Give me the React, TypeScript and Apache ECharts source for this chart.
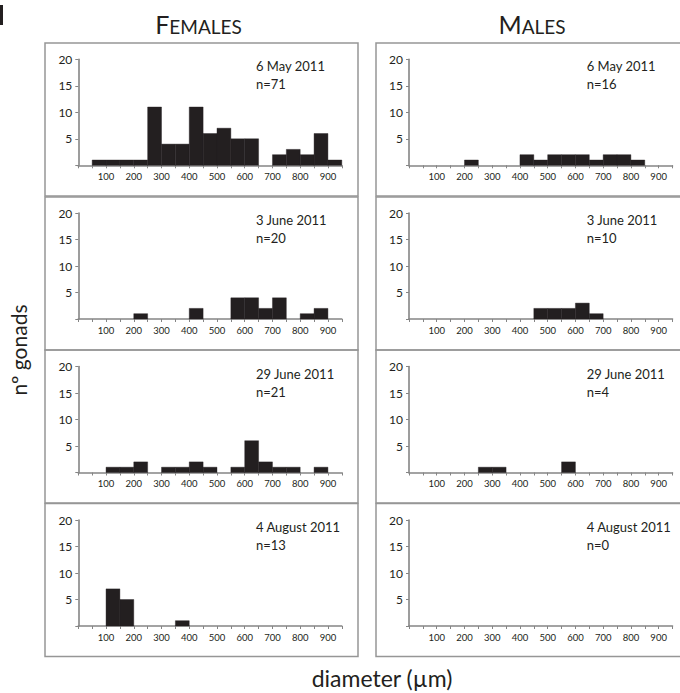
import React, { useEffect, useRef } from "react";
import * as echarts from "echarts";

// ---------- data ----------
const BIN_STARTS = [0, 50, 100, 150, 200, 250, 300, 350, 400, 450, 500, 550, 600, 650, 700, 750, 800, 850, 900];
const BIN_WIDTH = 50;
const X_LABELS = [100, 200, 300, 400, 500, 600, 700, 800, 900];
const Y_LABELS = [5, 10, 15, 20];

const COLUMN_TITLES = ["Females", "Males"];
const DATES = ["6 May 2011", "3 June 2011", "29 June 2011", "4 August 2011"];
const FEMALE_N = [71, 20, 21, 13];
const MALE_N = [16, 10, 4, 0];

const FEMALE_MAY = [0, 1, 1, 1, 1, 11, 4, 4, 11, 6, 7, 5, 5, 0, 2, 3, 2, 6, 1];
const FEMALE_JUNE3 = [0, 0, 0, 0, 1, 0, 0, 0, 2, 0, 0, 4, 4, 2, 4, 0, 1, 2, 0];
const FEMALE_JUNE29 = [0, 0, 1, 1, 2, 0, 1, 1, 2, 1, 0, 1, 6, 2, 1, 1, 0, 1, 0];
const FEMALE_AUG = [0, 0, 7, 5, 0, 0, 0, 1, 0, 0, 0, 0, 0, 0, 0, 0, 0, 0, 0];

const MALE_MAY = [0, 0, 0, 0, 1, 0, 0, 0, 2, 1, 2, 2, 2, 1, 2, 2, 1, 0, 0];
const MALE_JUNE3 = [0, 0, 0, 0, 0, 0, 0, 0, 0, 2, 2, 2, 3, 1, 0, 0, 0, 0, 0];
const MALE_JUNE29 = [0, 0, 0, 0, 0, 1, 1, 0, 0, 0, 0, 2, 0, 0, 0, 0, 0, 0, 0];
const MALE_AUG = [0, 0, 0, 0, 0, 0, 0, 0, 0, 0, 0, 0, 0, 0, 0, 0, 0, 0, 0];

const FEMALE_COUNTS = [FEMALE_MAY, FEMALE_JUNE3, FEMALE_JUNE29, FEMALE_AUG];
const MALE_COUNTS = [MALE_MAY, MALE_JUNE3, MALE_JUNE29, MALE_AUG];

// ---------- layout ----------
const FONT = "Lato, 'Noto Sans', sans-serif";
const INK = "#231f20";
const AXIS_GRAY = "#858585";
const BOX_GRAY = "#969696";

const GRID_LEFT = [78.3, 409];
const GRID_W = 263.5;
const GRID_TOP = [59.3, 213, 366.5, 520];
const GRID_H = 106;

const BOX_X = [45, 376];
const BOX_W = [313, 320];
const BOX_Y = [43, 197, 350, 503.5];
const BOX_H = 153;

export default function App() {
  const ref = useRef<HTMLDivElement>(null);

  useEffect(() => {
    if (!ref.current) return;
    const chart = echarts.init(ref.current, null, { renderer: "svg" });

    const grids: any[] = [];
    const xAxes: any[] = [];
    const yAxes: any[] = [];
    const series: any[] = [];
    const graphics: any[] = [];

    const columns = [
      { counts: FEMALE_COUNTS, n: FEMALE_N },
      { counts: MALE_COUNTS, n: MALE_N },
    ];

    let idx = 0;
    columns.forEach((col, c) => {
      for (let r = 0; r < 4; r++) {
        grids.push({
          left: GRID_LEFT[c],
          top: GRID_TOP[r],
          width: GRID_W,
          height: GRID_H,
          containLabel: false,
        });
        xAxes.push({
          gridIndex: idx,
          type: "value",
          min: 0,
          max: 950,
          interval: 50,
          axisLine: { show: true, onZero: false, lineStyle: { color: AXIS_GRAY, width: 1.6 } },
          axisTick: { show: true, length: 3, lineStyle: { color: AXIS_GRAY, width: 1 } },
          splitLine: { show: false },
          axisLabel: {
            show: true,
            fontSize: 9.5,
            fontFamily: FONT,
            color: INK,
            margin: 6,
            formatter: (v: number) => (X_LABELS.indexOf(v) >= 0 ? String(v) : ""),
          },
        });
        yAxes.push({
          gridIndex: idx,
          type: "value",
          min: 0,
          max: 20,
          interval: 5,
          axisLine: { show: true, lineStyle: { color: AXIS_GRAY, width: 1.6 } },
          axisTick: { show: true, length: 3, lineStyle: { color: AXIS_GRAY, width: 1 } },
          splitLine: { show: false },
          axisLabel: {
            show: true,
            fontSize: 12,
            fontFamily: FONT,
            color: INK,
            margin: 6,
            formatter: (v: number) => (Y_LABELS.indexOf(v) >= 0 ? String(v) : ""),
          },
        });
        const data = BIN_STARTS.map((s, i) => [s, s + BIN_WIDTH, col.counts[r][i]]).filter(
          (d) => d[2] > 0
        );
        series.push({
          type: "custom",
          xAxisIndex: idx,
          yAxisIndex: idx,
          data,
          clip: false,
          renderItem: (_params: any, api: any) => {
            const p0 = api.coord([api.value(0), api.value(2)]);
            const p1 = api.coord([api.value(1), 0]);
            return {
              type: "rect",
              shape: { x: p0[0], y: p0[1], width: p1[0] - p0[0], height: p1[1] - p0[1] },
              style: { fill: INK, stroke: INK, lineWidth: 0.4 },
            };
          },
        });

        // panel box
        graphics.push({
          type: "rect",
          shape: { x: BOX_X[c], y: BOX_Y[r], width: BOX_W[c], height: BOX_H },
          style: { fill: "none", stroke: BOX_GRAY, lineWidth: 1.5 },
          silent: true,
        });
        // date and n labels
        graphics.push({
          type: "text",
          x: GRID_LEFT[c] + 177.7,
          y: GRID_TOP[r] + 7,
          style: {
            text: DATES[r],
            fontSize: 13,
            fontFamily: FONT,
            fill: INK,
            align: "left",
            verticalAlign: "middle",
          },
        });
        graphics.push({
          type: "text",
          x: GRID_LEFT[c] + 177.7,
          y: GRID_TOP[r] + 25,
          style: {
            text: "n=" + col.n[r],
            fontSize: 13,
            fontFamily: FONT,
            fill: INK,
            align: "left",
            verticalAlign: "middle",
          },
        });
        idx++;
      }
    });

    // column headings in small caps
    const headingX = [198.5, 532];
    COLUMN_TITLES.forEach((t, c) => {
      const up = t.toUpperCase();
      graphics.push({
        type: "text",
        x: headingX[c],
        y: 23.5,
        style: {
          text: "{a|" + up.slice(0, 1) + "}{b|" + up.slice(1) + "}",
          align: "center",
          verticalAlign: "middle",
          rich: {
            a: { fontSize: 25, fontFamily: FONT, fill: INK, verticalAlign: "bottom" },
            b: { fontSize: 19, fontFamily: FONT, fill: INK, verticalAlign: "bottom" },
          },
        },
      });
    });

    // axis titles
    graphics.push({
      type: "text",
      x: 18,
      y: 350,
      rotation: Math.PI / 2,
      style: {
        text: "nº gonads",
        fontSize: 21,
        fontFamily: FONT,
        fill: INK,
        align: "center",
        verticalAlign: "middle",
      },
    });
    graphics.push({
      type: "text",
      x: 382,
      y: 678,
      style: {
        text: "diameter (µm)",
        fontSize: 23,
        fontFamily: FONT,
        fill: INK,
        align: "center",
        verticalAlign: "middle",
      },
    });
    // crop remnant at the top-left corner
    graphics.push({
      type: "rect",
      shape: { x: 0, y: 5, width: 3, height: 20 },
      style: { fill: INK },
    });

    chart.setOption({
      animation: false,
      backgroundColor: "#ffffff",
      grid: grids,
      xAxis: xAxes,
      yAxis: yAxes,
      series,
      graphic: graphics,
    });

    return () => chart.dispose();
  }, []);

  return (
    <div
      ref={ref}
      style={{ position: "fixed", left: 0, top: 0, width: 680, height: 693, background: "#fff" }}
    />
  );
}
